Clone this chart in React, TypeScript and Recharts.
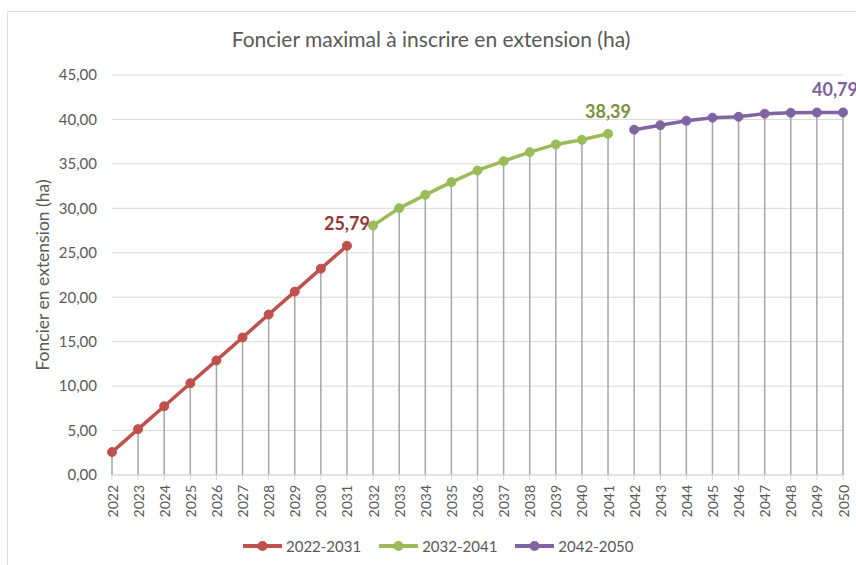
import React from "react";
import {
  LineChart,
  Line,
  XAxis,
  YAxis,
  CartesianGrid,
  LabelList,
  ReferenceLine,
} from "recharts";

// années (catégories de l'axe X)
const years = [
  2022, 2023, 2024, 2025, 2026, 2027, 2028, 2029, 2030, 2031, 2032, 2033, 2034,
  2035, 2036, 2037, 2038, 2039, 2040, 2041, 2042, 2043, 2044, 2045, 2046, 2047,
  2048, 2049, 2050,
];
const periode1 = [2.58, 5.16, 7.74, 10.32, 12.89, 15.47, 18.05, 20.63, 23.21, 25.79];
const periode2 = [28.07, 30.02, 31.52, 32.95, 34.26, 35.31, 36.32, 37.19, 37.71, 38.39];
const periode3 = [38.85, 39.35, 39.85, 40.2, 40.3, 40.65, 40.75, 40.78, 40.79];
const yTicks = [0, 5, 10, 15, 20, 25, 30, 35, 40, 45];

const FONT = "Lato, 'Open Sans', sans-serif";
const GREY = "#595959";

const series = [
  { key: "p1", name: "2022-2031", color: "#C0504D", labelColor: "#953735", values: periode1, offset: 0, dx: 0 },
  { key: "p2", name: "2032-2041", color: "#9BBB59", labelColor: "#77933C", values: periode2, offset: 10, dx: 0 },
  { key: "p3", name: "2042-2050", color: "#8064A2", labelColor: "#7B5F9E", values: periode3, offset: 20, dx: -8 },
];

const data = years.map((year, i) => {
  const row: any = { year };
  series.forEach((s) => {
    const j = i - s.offset;
    row[s.key] = j >= 0 && j < s.values.length ? s.values[j] : null;
  });
  row.total = row.p1 ?? row.p2 ?? row.p3;
  return row;
});

const fmt = (v: number) => v.toFixed(2).replace(".", ",");

const YearTick = (props: any) => {
  const { x, y, payload } = props;
  return (
    <g transform={`translate(${x},${y})`}>
      <text
        transform="rotate(-90)"
        textAnchor="end"
        dominantBaseline="central"
        fill={GREY}
        fontSize={14}
        fontFamily={FONT}
      >
        {payload.value}
      </text>
    </g>
  );
};

export default function App() {
  return (
    <div style={{ position: "absolute", left: 0, top: 0, width: 856, height: 565, overflow: "hidden", background: "#fff" }}>
      <div
        style={{
          position: "absolute",
          left: 7,
          top: 11,
          width: 870,
          height: 580,
          border: "1px solid #e0e0e0",
        }}
      />
      <div
        style={{
          position: "absolute",
          top: 26,
          left: 0,
          width: 862,
          textAlign: "center",
          fontFamily: FONT,
          fontSize: 21,
          color: GREY,
        }}
      >
        Foncier maximal à inscrire en extension (ha)
      </div>
      <LineChart
        width={856}
        height={565}
        data={data}
        margin={{ top: 75, right: 13, left: 0, bottom: 0 }}
      >
        <CartesianGrid vertical={false} stroke="#d9d9d9" />
        <XAxis
          dataKey="year"
          interval={0}
          height={90}
          stroke="#d9d9d9"
          tickSize={5}
          tickMargin={5}
          tick={<YearTick />}
        />
        <YAxis
          width={112}
          domain={[0, 45]}
          ticks={yTicks}
          axisLine={false}
          tickLine={false}
          tickSize={0}
          tickMargin={15}
          tickFormatter={fmt}
          tick={{ fill: GREY, fontSize: 15, fontFamily: FONT }}
          label={{
            value: "Foncier en extension (ha)",
            angle: -90,
            position: "center",
            dx: -13,
            style: { fill: GREY, fontSize: 17.5, fontFamily: FONT },
          }}
        />
        {data.map((d) => (
          <ReferenceLine
            key={d.year}
            segment={[
              { x: d.year, y: 0 },
              { x: d.year, y: d.total },
            ]}
            stroke="#a6a6a6"
            strokeWidth={1.5}
          />
        ))}
        {series.map((s) => (
          <Line
            key={s.key}
            dataKey={s.key}
            name={s.name}
            stroke={s.color}
            strokeWidth={3.5}
            dot={{ r: 4.5, fill: s.color, stroke: s.color, strokeWidth: 1 }}
            activeDot={false}
            isAnimationActive={false}
          >
            <LabelList
              dataKey={s.key}
              content={(p: any) =>
                p.index === s.offset + s.values.length - 1 ? (
                  <text
                    x={p.x + s.dx}
                    y={p.y - 16}
                    textAnchor="middle"
                    fill={s.labelColor}
                    fontSize={18}
                    fontWeight="bold"
                    fontFamily={FONT}
                  >
                    {fmt(p.value)}
                  </text>
                ) : null
              }
            />
          </Line>
        ))}
      </LineChart>
      <div
        style={{
          position: "absolute",
          top: 537,
          left: 243,
          display: "flex",
          alignItems: "center",
          fontFamily: FONT,
          fontSize: 15,
          color: GREY,
        }}
      >
        {series.map((s) => (
          <div key={s.key} style={{ display: "flex", alignItems: "center", marginRight: 18 }}>
            <svg width={39} height={12} style={{ marginRight: 4 }}>
              <line x1={0} y1={6} x2={39} y2={6} stroke={s.color} strokeWidth={4} />
              <circle cx={19.5} cy={6} r={5} fill={s.color} />
            </svg>
            <span>{s.name}</span>
          </div>
        ))}
      </div>
    </div>
  );
}
